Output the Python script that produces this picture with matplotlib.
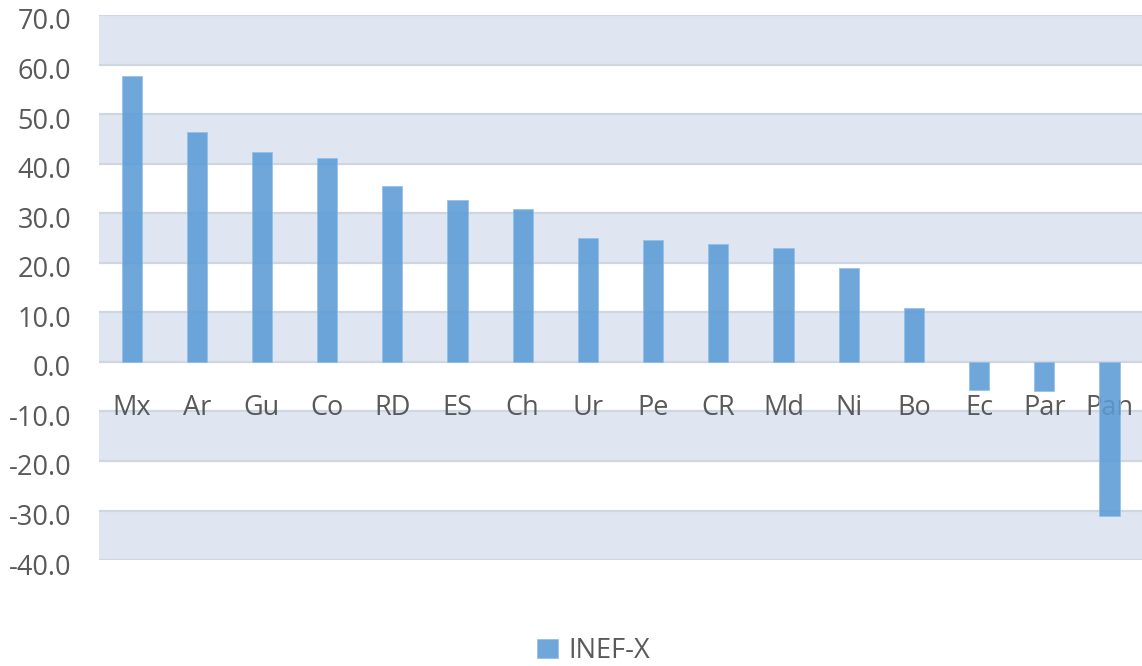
import matplotlib
matplotlib.use("Agg")
import matplotlib.pyplot as plt
import matplotlib.transforms as mtransforms
import numpy as np

categories = ["Mx", "Ar", "Gu", "Co", "RD", "ES", "Ch", "Ur", "Pe", "CR", "Md", "Ni", "Bo", "Ec", "Par", "Pan"]
values = [57.7, 46.4, 42.4, 41.2, 35.5, 32.7, 30.8, 25.0, 24.6, 23.8, 23.0, 19.0, 10.9, -5.6, -5.9, -31.0]
series_name = "INEF-X"
y_ticks = [-40, -30, -20, -10, 0, 10, 20, 30, 40, 50, 60, 70]

plt.rcParams['font.family'] = ['Open Sans', 'DejaVu Sans']
fig = plt.figure(figsize=(11.42, 6.66), dpi=100)
ax = fig.add_axes([0.0867, 0.159, 0.9133, 0.8185])

band_color = "#dfe6f2"
# alternating shaded bands
for lo in range(-40, 70, 10):
    if (lo // 10) % 2 == 0:  # 60-70, 40-50, 20-30, 0-10, -20..-10, -40..-30
        ax.axhspan(lo, lo + 10, color=band_color, zorder=0, lw=0)
for t in y_ticks:
    ax.axhline(t, color="#d0d6e0", lw=1.6, zorder=1)

x = np.arange(len(categories))
ax.bar(x, values, width=0.31, color="#5b9bd5", alpha=0.88, zorder=3,
       edgecolor="#8fc0ea", linewidth=0.6, label=series_name)

ax.set_xlim(-0.5, len(categories) - 0.5)
ax.set_ylim(-40, 70)
ax.set_yticks(y_ticks)
ax.set_yticklabels([f"{t:.1f}" for t in y_ticks], color="#595959", fontsize=19.5)
ax.tick_params(axis='y', length=0, pad=20)
offset = mtransforms.ScaledTranslation(0, -4 / 100, fig.dpi_scale_trans)
for lbl in ax.get_yticklabels():
    lbl.set_transform(lbl.get_transform() + offset)

ax.spines['bottom'].set_position(('data', 0))
for s in ax.spines.values():
    s.set_visible(False)
ax.set_xticks(x)
ax.set_xticklabels(categories, color="#595959", fontsize=19.5)
ax.tick_params(axis='x', length=0, pad=23)

leg = fig.legend(loc="lower center", bbox_to_anchor=(0.52, -0.035), frameon=False,
                 fontsize=19.5, handlelength=0.75, handleheight=0.75, handletextpad=0.4)
for t in leg.get_texts():
    t.set_color("#595959")

fig.savefig("out.png", dpi=100, facecolor="white")
